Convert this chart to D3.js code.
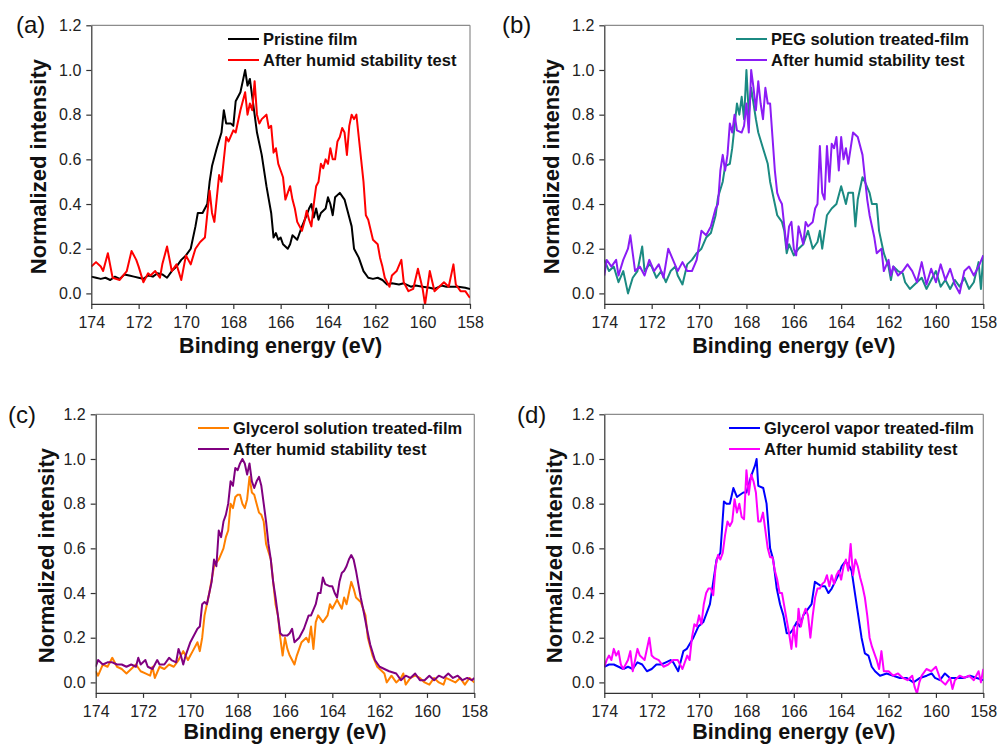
<!DOCTYPE html>
<html><head><meta charset="utf-8">
<script src="https://cdn.jsdelivr.net/npm/d3@7/dist/d3.min.js"></script>
<style>
html,body{margin:0;padding:0;background:#fff;}
svg{display:block;font-family:Arial,"Liberation Sans",sans-serif;}
</style></head>
<body>
<svg id="chart" width="1000" height="745"></svg>
<script>
// ---------------- DATA ----------------
const xTicks = [174, 172, 170, 168, 166, 164, 162, 160, 158];
const yTicks = [0.0, 0.2, 0.4, 0.6, 0.8, 1.0, 1.2];
const panelLabels = ["(a)", "(b)", "(c)", "(d)"];
const xTitle = "Binding energy (eV)";
const yTitle = "Normalized intensity";
const legendNames = [
  ["Pristine film", "After humid stability test"],
  ["PEG solution treated-film", "After humid stability test"],
  ["Glycerol solution treated-film", "After humid stability test"],
  ["Glycerol vapor treated-film", "After humid stability test"]
];
const seriesColors = [
  ["#000000", "#ff0000"],
  ["#1b8a82", "#8b1cf5"],
  ["#ff8000", "#800080"],
  ["#0000ff", "#ff00ff"]
];

// (a) Pristine film  [binding energy, intensity]
const pristine = [[174,0.075],[173.8,0.07],[173.6,0.065],[173.4,0.07],[173.2,0.06],[173,0.075],[172.8,0.065],[172.6,0.085],[172.4,0.08],[172.2,0.075],[172,0.07],[171.8,0.065],[171.6,0.08],[171.4,0.075],[171.2,0.09],[171,0.085],[170.8,0.07],[170.6,0.1],[170.4,0.12],[170.2,0.15],[170,0.17],[169.8,0.2],[169.6,0.3],[169.5,0.36],[169.3,0.36],[169.1,0.4],[169,0.5],[168.9,0.57],[168.7,0.65],[168.5,0.72],[168.4,0.82],[168.3,0.76],[168.1,0.76],[168,0.75],[167.9,0.86],[167.7,0.9],[167.6,0.95],[167.5,1.0],[167.4,0.93],[167.3,0.96],[167.2,0.88],[167.1,0.8],[167,0.72],[166.8,0.62],[166.6,0.48],[166.5,0.42],[166.4,0.36],[166.3,0.25],[166.2,0.27],[166.1,0.24],[166,0.25],[165.9,0.22],[165.7,0.2],[165.6,0.22],[165.5,0.26],[165.3,0.24],[165.1,0.3],[164.9,0.35],[164.8,0.38],[164.7,0.4],[164.6,0.34],[164.5,0.38],[164.4,0.33],[164.3,0.36],[164.1,0.38],[164,0.43],[163.9,0.4],[163.8,0.35],[163.7,0.43],[163.5,0.45],[163.3,0.42],[163.2,0.38],[163,0.3],[162.9,0.2],[162.7,0.16],[162.5,0.1],[162.3,0.07],[162.1,0.065],[161.9,0.07],[161.7,0.06],[161.5,0.04],[161.3,0.045],[161,0.04],[160.8,0.045],[160.5,0.03],[160.3,0.035],[160,0.03],[159.7,0.025],[159.5,0.02],[159.2,0.035],[159,0.03],[158.7,0.03],[158.5,0.03],[158.2,0.025],[158,0.02]];
// (a) After humid stability test
const pristineHumid = [[174,0.12],[173.8,0.14],[173.6,0.12],[173.5,0.1],[173.3,0.18],[173.1,0.07],[172.8,0.06],[172.5,0.1],[172.3,0.19],[172.1,0.15],[172,0.12],[171.8,0.05],[171.6,0.09],[171.5,0.08],[171.3,0.1],[171.1,0.07],[171,0.13],[170.8,0.21],[170.6,0.1],[170.4,0.13],[170.2,0.06],[170,0.17],[169.8,0.13],[169.6,0.2],[169.4,0.23],[169.2,0.25],[169,0.46],[168.9,0.36],[168.8,0.32],[168.6,0.53],[168.5,0.5],[168.3,0.7],[168.2,0.68],[168,0.73],[167.9,0.72],[167.7,0.82],[167.5,0.9],[167.4,0.8],[167.3,0.85],[167.2,0.82],[167.1,0.95],[167,0.8],[166.9,0.76],[166.8,0.78],[166.6,0.8],[166.5,0.74],[166.4,0.75],[166.3,0.63],[166.2,0.65],[166.1,0.58],[166,0.55],[165.9,0.52],[165.8,0.42],[165.6,0.48],[165.5,0.42],[165.4,0.38],[165.3,0.32],[165.1,0.28],[165,0.32],[164.9,0.37],[164.8,0.33],[164.7,0.3],[164.6,0.4],[164.5,0.48],[164.4,0.5],[164.3,0.58],[164.2,0.56],[164.1,0.6],[164,0.58],[163.9,0.65],[163.8,0.6],[163.7,0.6],[163.6,0.68],[163.5,0.7],[163.4,0.74],[163.3,0.72],[163.2,0.62],[163.1,0.75],[163,0.8],[162.9,0.78],[162.8,0.8],[162.7,0.7],[162.6,0.6],[162.5,0.5],[162.4,0.35],[162.3,0.33],[162.1,0.24],[161.9,0.22],[161.8,0.16],[161.7,0.12],[161.6,0.07],[161.4,0.03],[161.3,0.08],[161.1,0.1],[160.9,0.15],[160.8,0.05],[160.6,0.01],[160.4,0.02],[160.2,0.11],[160,0.02],[159.9,-0.05],[159.7,0.1],[159.5,0.01],[159.3,0.03],[159.1,0.05],[158.9,0.03],[158.7,0.13],[158.6,0.04],[158.4,0.01],[158.2,0.01],[158,-0.02]];

// (b) PEG solution treated-film
const pegFilm = [[174,0.15],[173.8,0.1],[173.6,0.12],[173.4,0.05],[173.2,0.1],[173,0.0],[172.8,0.07],[172.6,0.1],[172.4,0.21],[172.3,0.1],[172.1,0.13],[172,0.12],[171.8,0.07],[171.6,0.1],[171.4,0.05],[171.2,0.1],[171,0.12],[170.9,0.08],[170.7,0.04],[170.5,0.13],[170.3,0.15],[170.1,0.18],[169.9,0.2],[169.7,0.25],[169.5,0.27],[169.3,0.35],[169.2,0.43],[169,0.5],[168.9,0.57],[168.7,0.58],[168.6,0.65],[168.5,0.75],[168.4,0.85],[168.3,0.8],[168.2,0.88],[168.1,0.78],[168,1.0],[167.9,0.8],[167.8,0.92],[167.7,0.85],[167.6,0.78],[167.5,0.72],[167.3,0.65],[167.1,0.58],[167,0.5],[166.8,0.4],[166.7,0.35],[166.5,0.32],[166.4,0.28],[166.3,0.18],[166.2,0.22],[166,0.17],[165.8,0.2],[165.6,0.22],[165.4,0.28],[165.2,0.2],[165,0.23],[164.9,0.28],[164.8,0.2],[164.6,0.35],[164.4,0.38],[164.2,0.4],[164,0.48],[163.9,0.44],[163.8,0.4],[163.7,0.45],[163.5,0.45],[163.4,0.3],[163.3,0.42],[163.1,0.52],[163,0.5],[162.8,0.45],[162.7,0.4],[162.5,0.4],[162.4,0.28],[162.2,0.18],[162,0.12],[161.9,0.06],[161.8,0.12],[161.6,0.1],[161.4,0.09],[161.3,0.05],[161.1,0.02],[160.8,0.05],[160.6,0.07],[160.4,0.02],[160.2,0.06],[160,0.1],[159.8,0.03],[159.6,0.06],[159.4,0.02],[159.2,0.06],[159,0.03],[158.8,0.07],[158.6,0.02],[158.4,0.05],[158.2,0.14],[158.1,0.02],[158,0.17]];
// (b) After humid stability test
const pegHumid = [[174,0.08],[173.9,0.15],[173.7,0.12],[173.5,0.15],[173.4,0.08],[173.2,0.15],[173,0.2],[172.9,0.26],[172.7,0.1],[172.5,0.12],[172.3,0.08],[172.1,0.15],[171.9,0.1],[171.7,0.13],[171.5,0.07],[171.3,0.2],[171.1,0.15],[170.9,0.1],[170.7,0.14],[170.5,0.1],[170.3,0.1],[170.1,0.15],[169.9,0.28],[169.7,0.26],[169.5,0.3],[169.3,0.38],[169.2,0.4],[169.1,0.55],[169,0.62],[168.9,0.55],[168.8,0.62],[168.7,0.76],[168.6,0.72],[168.5,0.8],[168.4,0.73],[168.2,0.72],[168.1,0.75],[168,0.85],[167.9,0.72],[167.8,1.0],[167.7,0.92],[167.6,0.82],[167.5,0.95],[167.4,0.85],[167.3,0.78],[167.2,0.92],[167.1,0.85],[167,0.85],[166.9,0.7],[166.8,0.55],[166.7,0.45],[166.6,0.42],[166.5,0.4],[166.4,0.3],[166.3,0.2],[166.2,0.3],[166.1,0.32],[166,0.2],[165.9,0.17],[165.8,0.3],[165.6,0.22],[165.5,0.32],[165.4,0.3],[165.2,0.32],[165.1,0.38],[165,0.4],[164.9,0.66],[164.8,0.45],[164.7,0.42],[164.6,0.66],[164.5,0.5],[164.4,0.67],[164.3,0.65],[164.2,0.7],[164.1,0.55],[164,0.7],[163.9,0.6],[163.8,0.65],[163.7,0.58],[163.6,0.65],[163.5,0.72],[163.3,0.7],[163.1,0.62],[162.9,0.42],[162.8,0.35],[162.6,0.25],[162.5,0.18],[162.3,0.2],[162.2,0.1],[162,0.15],[161.9,0.08],[161.8,0.12],[161.6,0.08],[161.4,0.1],[161.2,0.13],[161,0.1],[160.8,0.05],[160.6,0.14],[160.4,0.04],[160.2,0.11],[160,0.05],[159.8,0.13],[159.6,0.06],[159.4,0.11],[159.2,0.04],[159,0.0],[158.8,0.1],[158.6,0.12],[158.4,0.08],[158.2,0.12],[158,0.17]];

// (c) Glycerol solution treated-film
const glySolFilm = [[174,0.05],[173.9,0.03],[173.7,0.08],[173.5,0.07],[173.3,0.11],[173.1,0.07],[172.9,0.06],[172.7,0.04],[172.5,0.06],[172.3,0.08],[172.1,0.05],[171.9,0.04],[171.7,0.03],[171.6,0.07],[171.5,0.02],[171.3,0.07],[171.1,0.06],[170.9,0.08],[170.7,0.07],[170.5,0.1],[170.3,0.14],[170.1,0.1],[170,0.12],[169.9,0.14],[169.7,0.18],[169.6,0.14],[169.5,0.2],[169.4,0.3],[169.2,0.4],[169,0.52],[168.8,0.55],[168.6,0.6],[168.5,0.65],[168.4,0.68],[168.3,0.8],[168.2,0.78],[168.1,0.83],[168,0.84],[167.9,0.84],[167.8,0.8],[167.7,0.78],[167.6,0.82],[167.5,0.92],[167.4,0.85],[167.3,0.84],[167.2,0.8],[167.1,0.76],[167,0.75],[166.9,0.72],[166.8,0.62],[166.6,0.55],[166.5,0.45],[166.4,0.35],[166.3,0.3],[166.2,0.2],[166.1,0.12],[166,0.2],[165.9,0.15],[165.8,0.12],[165.6,0.08],[165.5,0.12],[165.3,0.18],[165.1,0.2],[165,0.18],[164.9,0.25],[164.8,0.15],[164.7,0.27],[164.6,0.3],[164.4,0.27],[164.2,0.3],[164.1,0.35],[164,0.33],[163.8,0.37],[163.6,0.33],[163.5,0.38],[163.4,0.35],[163.3,0.4],[163.2,0.45],[163.1,0.42],[163,0.38],[162.8,0.36],[162.6,0.3],[162.5,0.2],[162.3,0.12],[162.1,0.07],[162,0.06],[161.8,0.04],[161.7,0.0],[161.5,0.03],[161.3,0.0],[161.1,0.02],[161,0.04],[160.9,-0.01],[160.7,0.02],[160.5,0.03],[160.3,0.02],[160.1,0.0],[159.9,-0.01],[159.7,0.02],[159.5,0.0],[159.3,-0.01],[159.2,0.02],[159,0.01],[158.8,0.0],[158.6,0.02],[158.4,-0.01],[158.2,0.02],[158,0.0]];
// (c) After humid stability test
const glySolHumid = [[174,0.07],[173.9,0.1],[173.7,0.08],[173.5,0.09],[173.3,0.09],[173.1,0.08],[172.9,0.08],[172.7,0.07],[172.5,0.08],[172.3,0.07],[172.2,0.11],[172.1,0.08],[171.9,0.1],[171.8,0.07],[171.6,0.06],[171.4,0.1],[171.3,0.08],[171.1,0.08],[170.9,0.11],[170.8,0.1],[170.6,0.09],[170.5,0.15],[170.4,0.12],[170.3,0.08],[170.2,0.12],[170,0.18],[169.9,0.2],[169.7,0.24],[169.6,0.25],[169.5,0.35],[169.4,0.36],[169.3,0.35],[169.1,0.45],[169,0.55],[168.9,0.52],[168.8,0.68],[168.7,0.65],[168.6,0.72],[168.5,0.75],[168.4,0.8],[168.3,0.9],[168.2,0.88],[168.1,0.96],[168,0.95],[167.9,0.98],[167.8,1.0],[167.7,0.98],[167.6,0.93],[167.5,0.98],[167.4,0.9],[167.3,0.87],[167.2,0.9],[167.1,0.92],[167,0.88],[166.9,0.8],[166.8,0.72],[166.7,0.62],[166.6,0.55],[166.5,0.45],[166.4,0.38],[166.3,0.3],[166.2,0.22],[166.1,0.21],[165.9,0.21],[165.8,0.22],[165.7,0.24],[165.6,0.18],[165.4,0.2],[165.2,0.24],[165,0.3],[164.9,0.3],[164.7,0.35],[164.6,0.4],[164.5,0.4],[164.4,0.47],[164.3,0.44],[164.1,0.43],[164,0.43],[163.9,0.4],[163.8,0.38],[163.7,0.45],[163.6,0.49],[163.5,0.5],[163.4,0.52],[163.3,0.55],[163.2,0.57],[163.1,0.55],[163,0.5],[162.9,0.44],[162.8,0.38],[162.7,0.33],[162.5,0.22],[162.4,0.17],[162.2,0.1],[162,0.07],[161.8,0.06],[161.6,0.05],[161.3,0.04],[161.1,0.01],[160.9,0.03],[160.7,0.02],[160.5,0.04],[160.3,0.01],[160.1,0.01],[159.9,0.03],[159.7,0.01],[159.5,0.03],[159.3,0.02],[159.1,0.04],[158.9,0.02],[158.7,0.03],[158.5,0.01],[158.3,0.02],[158.1,0.01],[158,0.02]];

// (d) Glycerol vapor treated-film
const glyVapFilm = [[174,0.07],[173.8,0.08],[173.6,0.08],[173.4,0.07],[173.2,0.06],[173,0.07],[172.8,0.06],[172.6,0.09],[172.4,0.08],[172.2,0.05],[172,0.06],[171.8,0.08],[171.6,0.08],[171.4,0.09],[171.2,0.1],[171.09,0.09],[170.88,0.05],[170.66,0.14],[170.52,0.15],[170.24,0.2],[170.03,0.25],[169.82,0.27],[169.54,0.35],[169.4,0.45],[169.26,0.55],[169.1,0.58],[168.95,0.81],[168.84,0.8],[168.7,0.8],[168.55,0.87],[168.4,0.83],[168.27,0.84],[168.13,0.85],[168,0.85],[167.92,0.88],[167.78,0.93],[167.64,0.97],[167.57,1.0],[167.5,0.88],[167.29,0.87],[167.15,0.8],[167,0.6],[166.87,0.55],[166.72,0.42],[166.58,0.35],[166.44,0.3],[166.3,0.22],[166.16,0.22],[166.02,0.24],[165.88,0.27],[165.74,0.25],[165.6,0.3],[165.39,0.33],[165.25,0.35],[165.11,0.45],[164.97,0.44],[164.82,0.43],[164.68,0.43],[164.54,0.4],[164.4,0.42],[164.26,0.45],[164.12,0.48],[163.98,0.52],[163.84,0.54],[163.7,0.53],[163.56,0.5],[163.42,0.4],[163.28,0.3],[163.14,0.2],[163,0.13],[162.85,0.12],[162.71,0.07],[162.57,0.05],[162.36,0.03],[162.08,0.04],[161.8,0.03],[161.52,0.02],[161.24,0.02],[160.95,0.0],[160.67,0.02],[160.39,0.03],[160.18,0.04],[160.04,0.02],[159.83,0.01],[159.62,0.04],[159.41,0.02],[159.13,0.02],[158.84,0.02],[158.56,0.03],[158.28,0.02],[158,0.01]];
// (d) After humid stability test
const glyVapHumid = [[174,0.07],[173.9,0.1],[173.8,0.12],[173.7,0.1],[173.6,0.15],[173.5,0.12],[173.4,0.14],[173.3,0.08],[173.2,0.06],[173,0.1],[172.9,0.14],[172.8,0.05],[172.6,0.15],[172.5,0.12],[172.3,0.1],[172.1,0.2],[172,0.12],[171.9,0.11],[171.7,0.1],[171.5,0.07],[171.3,0.08],[171.1,0.1],[170.9,0.1],[170.7,0.06],[170.5,0.12],[170.4,0.1],[170.3,0.2],[170.2,0.26],[170.1,0.25],[170,0.3],[169.9,0.26],[169.8,0.35],[169.7,0.4],[169.6,0.42],[169.5,0.42],[169.4,0.39],[169.3,0.52],[169.2,0.57],[169.1,0.55],[169,0.58],[168.9,0.66],[168.8,0.72],[168.7,0.7],[168.6,0.72],[168.5,0.82],[168.4,0.76],[168.3,0.8],[168.2,0.74],[168.1,0.73],[168,0.95],[167.9,0.84],[167.8,0.93],[167.7,0.9],[167.6,0.85],[167.5,0.72],[167.4,0.72],[167.3,0.76],[167.2,0.68],[167.1,0.6],[167,0.56],[166.9,0.56],[166.8,0.5],[166.7,0.46],[166.6,0.4],[166.5,0.4],[166.4,0.34],[166.3,0.28],[166.2,0.22],[166.1,0.15],[166,0.25],[165.9,0.16],[165.8,0.33],[165.7,0.25],[165.6,0.3],[165.5,0.33],[165.4,0.3],[165.3,0.2],[165.2,0.3],[165.1,0.38],[165,0.42],[164.9,0.42],[164.8,0.44],[164.7,0.45],[164.6,0.48],[164.5,0.43],[164.4,0.48],[164.3,0.44],[164.2,0.48],[164.1,0.5],[164,0.46],[163.9,0.52],[163.8,0.55],[163.7,0.5],[163.6,0.62],[163.5,0.48],[163.4,0.55],[163.3,0.52],[163.2,0.47],[163.1,0.43],[163,0.38],[162.9,0.3],[162.8,0.2],[162.7,0.16],[162.5,0.1],[162.4,0.06],[162.3,0.14],[162.2,0.05],[162,0.05],[161.8,0.03],[161.6,0.04],[161.4,0.02],[161.2,0.01],[161,0.03],[160.9,-0.02],[160.8,-0.05],[160.7,0.0],[160.6,0.03],[160.4,0.06],[160.2,0.05],[160,0.07],[159.8,0.01],[159.6,-0.01],[159.4,0.02],[159.3,-0.03],[159.2,0.01],[159,0.03],[158.8,0.02],[158.6,0.03],[158.4,0.01],[158.2,0.05],[158.1,0.0],[158,0.06]];

const panelSeries = [
  [pristine, pristineHumid],
  [pegFilm, pegHumid],
  [glySolFilm, glySolHumid],
  [glyVapFilm, glyVapHumid]
];

// ---------------- LAYOUT ----------------
const layout = [
  {left: 91.3,  right: 470,   top: 25.3,  legendX: 228, labelX: 16,  labelY: 33,  titleDy: 49.5, yTitleDx: 45},
  {left: 604.3, right: 983.3, top: 25.3,  legendX: 736, labelX: 502, labelY: 33,  titleDy: 49.5, yTitleDx: 45},
  {left: 95.7,  right: 474.3, top: 414.3, legendX: 198, labelX: 8,   labelY: 423, titleDy: 46,   yTitleDx: 42},
  {left: 604.3, right: 983.3, top: 414.3, legendX: 729, labelX: 517, labelY: 423, titleDy: 46,   yTitleDx: 42}
];
const plotH = 278.6;
const yMin = -0.047, yMax = 1.2;

const svg = d3.select("#chart");
const defs = svg.append("defs");

layout.forEach((L, i) => {
  const bottom = L.top + plotH;
  const x = d3.scaleLinear().domain([174, 158]).range([L.left, L.right]);
  const y = d3.scaleLinear().domain([yMin, yMax]).range([bottom, L.top]);
  const g = svg.append("g");

  defs.append("clipPath").attr("id", "clip" + i)
    .append("rect").attr("x", L.left).attr("y", L.top)
    .attr("width", L.right - L.left).attr("height", plotH);

  // top & right frame (gray)
  g.append("line").attr("x1", L.left).attr("x2", L.right).attr("y1", L.top).attr("y2", L.top)
    .attr("stroke", "#8c8c8c").attr("stroke-width", 1.2);
  g.append("line").attr("x1", L.right).attr("x2", L.right).attr("y1", L.top).attr("y2", bottom)
    .attr("stroke", "#8c8c8c").attr("stroke-width", 1.2);

  // series lines
  const line = d3.line().x(d => x(d[0])).y(d => y(d[1]));
  const lg = g.append("g").attr("clip-path", `url(#clip${i})`);
  panelSeries[i].forEach((s, k) => {
    lg.append("path").datum(s).attr("d", line)
      .attr("fill", "none").attr("stroke", seriesColors[i][k])
      .attr("stroke-width", 2).attr("stroke-linejoin", "round");
  });

  // axes
  const ax = g.append("g").attr("transform", `translate(0,${bottom})`)
    .call(d3.axisBottom(x).tickValues(xTicks).tickFormat(d3.format("d")).tickSize(5).tickPadding(8).tickSizeOuter(0));
  const ay = g.append("g").attr("transform", `translate(${L.left},0)`)
    .call(d3.axisLeft(y).tickValues(yTicks).tickFormat(d3.format(".1f")).tickSize(5).tickPadding(5).tickSizeOuter(0));
  [ax, ay].forEach(a => {
    a.select(".domain").attr("stroke", "#333").attr("stroke-width", 1.2);
    a.selectAll(".tick line").attr("stroke", "#333").attr("stroke-width", 1.2);
    a.selectAll(".tick text").attr("fill", "#222").style("font-size", "16px")
      .style("font-family", "Arial, 'Liberation Sans', sans-serif");
  });

  // axis titles
  g.append("text").attr("x", (L.left + L.right) / 2).attr("y", bottom + L.titleDy)
    .attr("text-anchor", "middle").attr("font-weight", "bold").attr("font-size", 21.5)
    .attr("fill", "#111").text(xTitle);
  g.append("text")
    .attr("transform", `translate(${L.left - L.yTitleDx},${(L.top + bottom) / 2 + 2}) rotate(-90)`)
    .attr("text-anchor", "middle").attr("font-weight", "bold").attr("font-size", 22)
    .attr("fill", "#111").text(yTitle);

  // panel label
  g.append("text").attr("x", L.labelX).attr("y", L.labelY)
    .attr("font-size", 24).attr("fill", "#111").text(panelLabels[i]);

  // legend
  legendNames[i].forEach((name, k) => {
    const ly = L.top + 13.7 + k * 21;
    g.append("line").attr("x1", L.legendX).attr("x2", L.legendX + 31)
      .attr("y1", ly).attr("y2", ly)
      .attr("stroke", seriesColors[i][k]).attr("stroke-width", 2);
    g.append("text").attr("x", L.legendX + 35).attr("y", ly + 6)
      .attr("font-weight", "bold").attr("font-size", 16.5).attr("fill", "#111").text(name);
  });
});
</script>
</body></html>
